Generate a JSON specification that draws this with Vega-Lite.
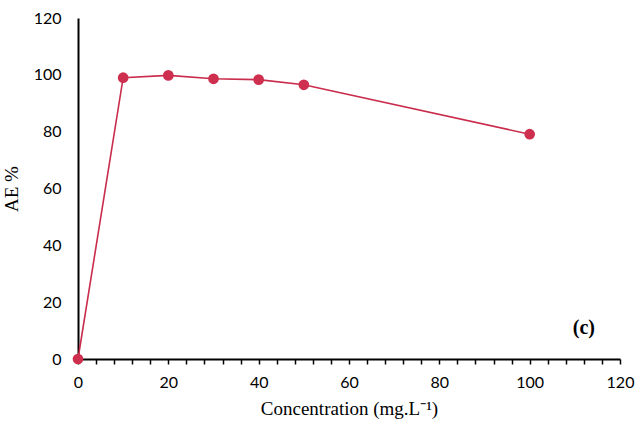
{
  "$schema": "https://vega.github.io/schema/vega-lite/v6.json",
  "width": 542,
  "height": 341,
  "autosize": {"type": "none"},
  "padding": {"left": 78, "top": 18, "right": 20, "bottom": 72},
  "background": "white",
  "datasets": {
    "ae": [
      {"conc": 0, "ae": 0},
      {"conc": 10, "ae": 99.0},
      {"conc": 20, "ae": 99.8},
      {"conc": 30, "ae": 98.6},
      {"conc": 40, "ae": 98.3},
      {"conc": 50, "ae": 96.5},
      {"conc": 100, "ae": 79.1}
    ],
    "tag": [{"conc": 112, "ae": 11, "label": "(c)"}]
  },
  "encoding": {
    "x": {
      "field": "conc",
      "type": "quantitative",
      "scale": {"domain": [0, 120], "nice": false},
      "axis": {
        "title": "Concentration (mg.L⁻¹)",
        "values": [0, 4, 8, 12, 16, 20, 24, 28, 32, 36, 40, 44, 48, 52, 56, 60, 64, 68, 72, 76, 80, 84, 88, 92, 96, 100, 104, 108, 112, 116, 120],
        "labelExpr": "datum.value % 20 == 0 ? datum.label : ''",
        "labelFlush": false,
        "labelOverlap": false,
        "grid": false,
        "domainColor": "black",
        "domainWidth": 2,
        "tickColor": "black",
        "tickWidth": 1.5,
        "tickSize": 5,
        "labelFont": "Lato",
        "labelFontSize": 16,
        "labelColor": "black",
        "labelPadding": 10,
        "titleFont": "Liberation Serif",
        "titleFontSize": 19,
        "titleFontWeight": "normal",
        "titleColor": "black",
        "titlePadding": 9
      }
    },
    "y": {
      "field": "ae",
      "type": "quantitative",
      "scale": {"domain": [0, 120], "nice": false},
      "axis": {
        "title": "AE %",
        "values": [0, 20, 40, 60, 80, 100, 120],
        "labelFlush": false,
        "grid": false,
        "ticks": false,
        "domainColor": "black",
        "domainWidth": 2,
        "labelFont": "Lato",
        "labelFontSize": 16,
        "labelColor": "black",
        "labelPadding": 17,
        "titleFont": "Liberation Serif",
        "titleFontSize": 19,
        "titleFontWeight": "normal",
        "titleColor": "black",
        "titlePadding": 12
      }
    }
  },
  "layer": [
    {
      "data": {"name": "ae"},
      "mark": {"type": "line", "color": "#c92c4c", "strokeWidth": 1.6}
    },
    {
      "data": {"name": "ae"},
      "mark": {"type": "point", "filled": true, "color": "#cf2f4f", "opacity": 1, "size": 115}
    },
    {
      "data": {"name": "tag"},
      "mark": {"type": "text", "font": "Liberation Serif", "fontSize": 20, "fontWeight": "bold", "color": "black"},
      "encoding": {"text": {"field": "label"}}
    }
  ],
  "config": {"view": {"stroke": null}}
}
